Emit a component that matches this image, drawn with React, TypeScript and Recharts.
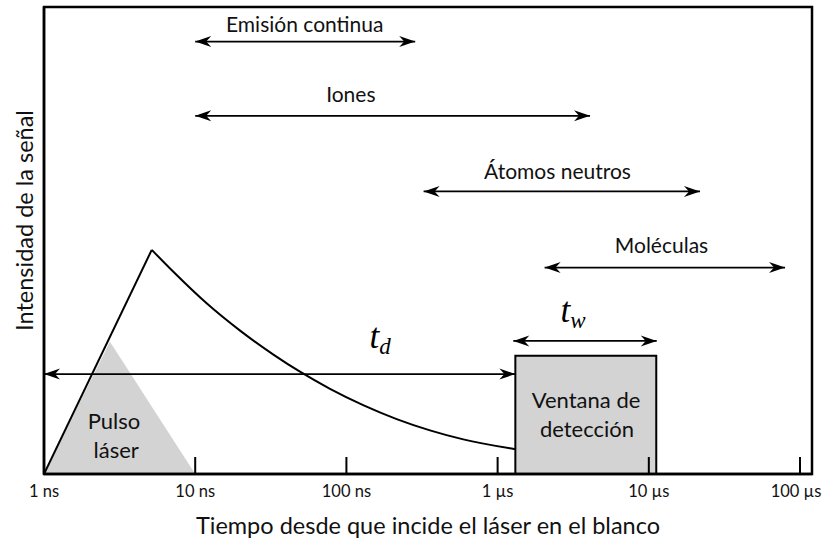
import React from "react";
import {
  ComposedChart,
  XAxis,
  YAxis,
  Line,
  Area,
  Scatter,
  ReferenceArea,
} from "recharts";

const FONT = "Lato, 'Open Sans', sans-serif";
const MATH = "'Liberation Serif', 'DejaVu Serif', serif";

// time in ns, log axis
const X_MIN = 1;
const X_MAX = 120000;
const tickValues = [1, 10, 100, 1000, 10000, 100000];
const tickLabels = ["1 ns", "10 ns", "100 ns", "1 µs", "10 µs", "100 µs"];

// signal: linear rise then decay
const riseData = [
  { x: 1, y: 0 },
  { x: 5.16, y: 0.48 },
];
const decayData = [
  { x: 5.16, y: 0.48 },
  { x: 7.17, y: 0.433 },
  { x: 11.9, y: 0.3655 },
  { x: 19.8, y: 0.307 },
  { x: 32.9, y: 0.2557 },
  { x: 49.3, y: 0.219 },
  { x: 77.9, y: 0.1824 },
  { x: 129, y: 0.1475 },
  { x: 215, y: 0.1176 },
  { x: 357, y: 0.0934 },
  { x: 593, y: 0.0741 },
  { x: 1310, y: 0.053 },
];

// laser pulse triangle
const pulseData = [
  { x: 1, y: 0 },
  { x: 2.73, y: 0.283 },
  { x: 10, y: 0 },
];

// detection window
const windowStart = 1310;
const windowEnd = 11200;
const windowTop = 0.253;

// species ranges (double arrows)
const rangeLabels = ["Emisión continua", "Iones", "Átomos neutros", "Moléculas"];
const rangeFrom = [10, 10, 324, 2046];
const rangeTo = [285, 4085, 21800, 79600];
const rangeLevel = [0.926, 0.767, 0.605, 0.442];
const rangeLabelX = [53, 107, 2490, 12130];
const rangeLabelY = [0.947, 0.797, 0.632, 0.473];

// t_d and t_w arrows
const delayArrow = [
  { x: 1, y: 0.214 },
  { x: 1310, y: 0.214 },
];
const widthArrow = [
  { x: 1270, y: 0.285 },
  { x: 11280, y: 0.285 },
];

const innerLabels = [
  { text: "Pulso", x: 2.9, y: 0.096, kind: "inner" },
  { text: "láser", x: 3.0, y: 0.034, kind: "inner" },
  { text: "Ventana de", x: 3845, y: 0.141, kind: "inner" },
  { text: "detección", x: 3900, y: 0.079, kind: "inner" },
  { text: "t", sub: "d", x: 167, y: 0.269, kind: "math" },
  { text: "t", sub: "w", x: 3152, y: 0.326, kind: "math" },
];

const rangeArrows = rangeLabels.map((_, i) => [
  { x: rangeFrom[i], y: rangeLevel[i] },
  { x: rangeTo[i], y: rangeLevel[i] },
]);

const labelData = [
  ...rangeLabels.map((t, i) => ({
    text: t,
    x: rangeLabelX[i],
    y: rangeLabelY[i],
    kind: "range",
  })),
  ...innerLabels,
];

function arrowDot(props: any) {
  const { cx, cy, index } = props;
  const dir = index === 0 ? -1 : 1;
  const L = 16;
  const W = 5.5;
  const N = 11;
  const pts = `${cx},${cy} ${cx - dir * L},${cy - W} ${cx - dir * N},${cy} ${
    cx - dir * L
  },${cy + W}`;
  return <polygon key={`ah-${index}-${cx}-${cy}`} points={pts} fill="#000" />;
}

function LabelShape(props: any) {
  const { cx, cy, payload } = props;
  if (payload.kind === "math") {
    return (
      <text
        x={cx}
        y={cy}
        textAnchor="middle"
        fontFamily={MATH}
        fontStyle="italic"
        fontSize={35}
        fill="#000"
      >
        {payload.text}
        <tspan dy={6} fontSize={23}>
          {payload.sub}
        </tspan>
      </text>
    );
  }
  return (
    <text
      x={cx}
      y={cy}
      textAnchor="middle"
      fontFamily={FONT}
      fontSize={payload.kind === "inner" ? 22 : 21}
      fill="#111"
    >
      {payload.text}
    </text>
  );
}

function TimeTick(props: any) {
  const { x, y, payload, index } = props;
  const i = tickValues.indexOf(payload.value);
  const last = i === tickValues.length - 1;
  return (
    <g>
      {index > 0 && (
        <line x1={x} y1={y} x2={x} y2={y - 17} stroke="#000" strokeWidth={2} />
      )}
      <text
        x={last ? x - 4 : x}
        y={y + 23}
        textAnchor="middle"
        fontFamily={FONT}
        fontSize={16.5}
        fill="#111"
      >
        {tickLabels[i]}
      </text>
    </g>
  );
}

function XTitle(props: any) {
  const vb = props.viewBox || { x: 44, y: 474, width: 768, height: 70 };
  return (
    <text
      x={vb.x + vb.width / 2}
      y={vb.y + 60}
      textAnchor="middle"
      fontFamily={FONT}
      fontSize={23.5}
      fill="#111"
    >
      Tiempo desde que incide el láser en el blanco
    </text>
  );
}

function YTitle(props: any) {
  const vb = props.viewBox || { x: 0, y: 7, width: 44, height: 467 };
  const cx = vb.x + 33;
  const cy = vb.y + vb.height / 2 - 20;
  return (
    <text
      transform={`translate(${cx},${cy}) rotate(-90)`}
      textAnchor="middle"
      fontFamily={FONT}
      fontSize={23.5}
      fill="#111"
    >
      Intensidad de la señal
    </text>
  );
}

export default function App() {
  return (
    <div style={{ position: "absolute", left: 0, top: 0, background: "#fff" }}>
      <ComposedChart
        width={825}
        height={544}
        margin={{ top: 7, right: 13, bottom: 0, left: 0 }}
      >
        <XAxis
          type="number"
          dataKey="x"
          scale="log"
          domain={[X_MIN, X_MAX]}
          allowDataOverflow
          ticks={tickValues}
          interval={0}
          tick={<TimeTick />}
          tickLine={false}
          tickSize={0}
          tickMargin={0}
          height={70}
          axisLine={{ stroke: "#000", strokeWidth: 2.5 }}
          label={(p: any) => <XTitle {...p} />}
        />
        <YAxis
          type="number"
          dataKey="y"
          domain={[0, 1]}
          allowDataOverflow
          width={44}
          tick={false}
          tickLine={false}
          axisLine={{ stroke: "#000", strokeWidth: 2.5 }}
          label={(p: any) => <YTitle {...p} />}
        />
        <Area
          data={pulseData}
          dataKey="y"
          type="linear"
          fill="#d3d3d3"
          fillOpacity={1}
          stroke="none"
          isAnimationActive={false}
        />
        <ReferenceArea
          x1={windowStart}
          x2={windowEnd}
          y1={0}
          y2={windowTop}
          fill="#d3d3d3"
          fillOpacity={1}
          stroke="#000"
          strokeWidth={2}
        />
        <ReferenceArea
          x1={X_MIN}
          x2={X_MAX}
          y1={0}
          y2={1}
          fill="none"
          stroke="#000"
          strokeWidth={2.5}
        />
        <Line
          data={riseData}
          dataKey="y"
          type="linear"
          stroke="#000"
          strokeWidth={2}
          dot={false}
          isAnimationActive={false}
        />
        <Line
          data={decayData}
          dataKey="y"
          type="monotone"
          stroke="#000"
          strokeWidth={2}
          dot={false}
          isAnimationActive={false}
        />
        {[delayArrow, widthArrow, ...rangeArrows].map((d, i) => (
          <Line
            key={`arrow-${i}`}
            data={d}
            dataKey="y"
            type="linear"
            stroke="#000"
            strokeWidth={1.8}
            dot={arrowDot}
            activeDot={false}
            isAnimationActive={false}
          />
        ))}
        <Scatter
          data={labelData}
          shape={(p: any) => <LabelShape {...p} />}
          isAnimationActive={false}
        />
      </ComposedChart>
    </div>
  );
}
